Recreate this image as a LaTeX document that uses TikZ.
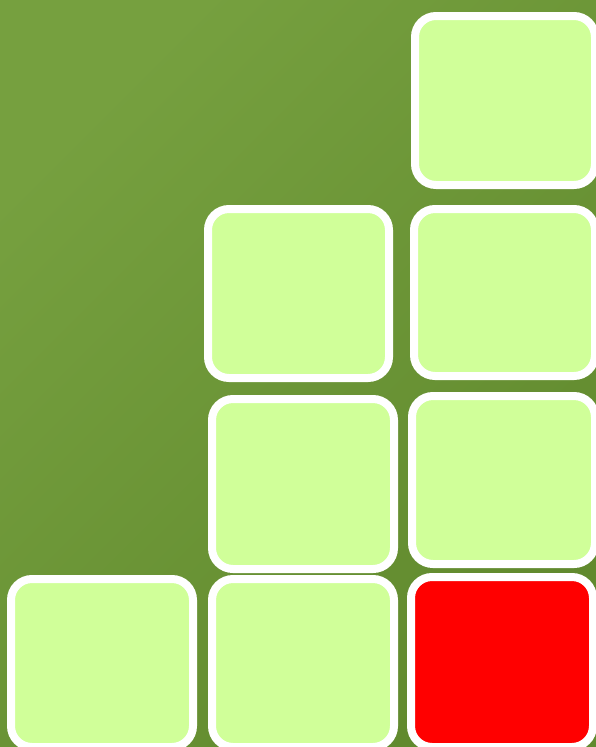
\documentclass[tikz,border=0pt]{standalone}
\definecolor{bgA}{HTML}{76A03F}
\definecolor{bgC}{HTML}{618A2E}
\definecolor{cellfill}{HTML}{D0FF99}
\definecolor{hot}{HTML}{FF0000}
\tikzset{
  cell/.style={draw=white, line width=8pt, rounded corners=21pt, fill=cellfill},
  hotcell/.style={cell, fill=hot}
}
% outer box -> inset by half the border
\newcommand{\mycell}[6]{\path[#6] (#2+4pt,-#3-4pt) rectangle (#4-4pt,-#5+4pt) node[midway] (#1) {};}
\begin{document}
\begin{tikzpicture}[x=1pt,y=1pt]
\useasboundingbox (0,0) rectangle (596,-747);
\shade[top color=bgA, bottom color=bgC, shading angle=45] (0,0) rectangle (596,-747);
\mycell{a}{411}{12}{599}{189}{cell}
\mycell{b}{204}{205}{393}{382}{cell}
\mycell{c}{410}{205}{599}{380}{cell}
\mycell{d}{208}{395}{398}{573}{cell}
\mycell{e}{408}{392}{599}{568}{cell}
\mycell{f}{7}{575}{197}{751}{cell}
\mycell{g}{208}{575}{398}{751}{cell}
\mycell{h}{407}{573}{597}{751}{hotcell}
\end{tikzpicture}
\end{document}
